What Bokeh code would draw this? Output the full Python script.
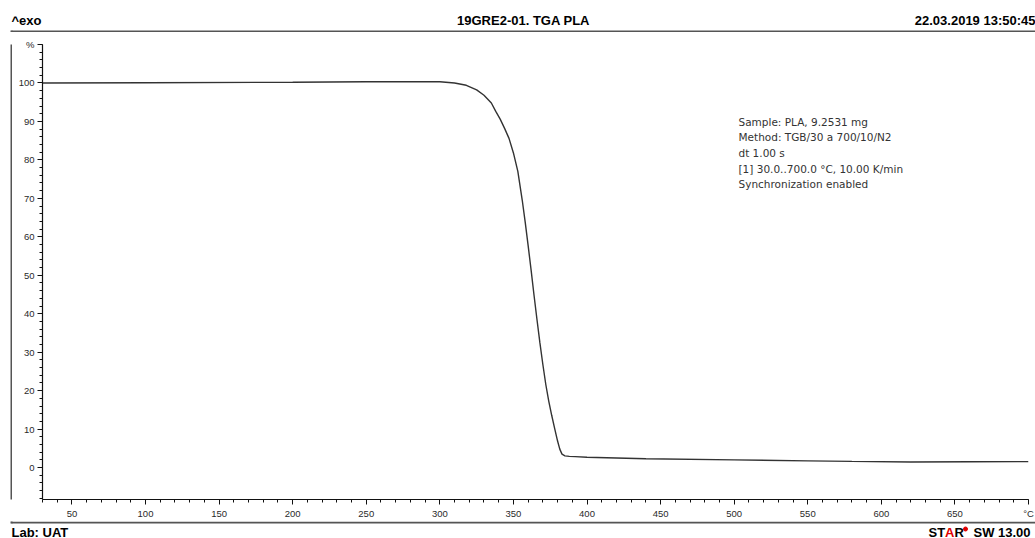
from bokeh.plotting import figure
from bokeh.models import FixedTicker, Range1d
from bokeh.layouts import column, row
from bokeh.core.properties import value
from bokeh.embed import file_html
from bokeh.resources import INLINE

# ---- data ----
temperature_c = [30, 100, 200, 250, 290, 300, 310, 318, 325, 330, 335, 338, 341, 344, 347,
                 350, 353, 356, 358, 360, 362, 364, 366, 368, 370, 372, 374, 376, 378, 380,
                 381.5, 383, 385, 388, 392, 400, 440, 500, 550, 580, 620, 660, 700]
mass_pct = [100.0, 100.05, 100.2, 100.3, 100.35, 100.3, 100.0, 99.4, 98.2, 96.8, 94.8, 92.6,
            90.6, 88.2, 85.6, 81.8, 77.0, 69.5, 63.8, 57.7, 51.4, 44.8, 38.5, 32.4, 26.8,
            21.6, 17.3, 13.6, 10.2, 6.9, 4.8, 3.5, 3.05, 2.92, 2.85, 2.7, 2.3, 2.0, 1.75,
            1.6, 1.45, 1.5, 1.55]

x_ticks = [50, 100, 150, 200, 250, 300, 350, 400, 450, 500, 550, 600, 650, 700]
x_minor_ticks = list(range(30, 701, 10))
x_tick_labels = {700: "°C"}
y_ticks = [0, 10, 20, 30, 40, 50, 60, 70, 80, 90, 100, 110]
y_minor_ticks = list(range(-8, 111, 2))
y_tick_labels = {110: "%"}

title = "19GRE2-01. TGA PLA"
header_left = "^exo"
header_right = "22.03.2019 13:50:45"
footer_left = "Lab: UAT"
info_lines = ["Sample: PLA, 9.2531 mg",
              "Method: TGB/30 a 700/10/N2",
              "dt 1.00 s",
              "[1] 30.0..700.0 °C, 10.00 K/min",
              "Synchronization enabled"]

# ---- page geometry ----
W, H = 1035, 538
HEAD_H = 32
FOOT_H = 17
MID_H = H - HEAD_H - FOOT_H
LEFT_W = 12
MAIN_W = W - LEFT_W
BOX_COLOR = "#555555"
HEAD_FONT = value("Liberation Sans")


def blank(width, height):
    f = figure(width=width, height=height, output_backend="svg", toolbar_location=None,
               x_range=Range1d(0, width), y_range=Range1d(height, 0),
               x_axis_location=None, y_axis_location=None,
               min_border=0, min_border_left=0, min_border_right=0,
               min_border_top=0, min_border_bottom=0)
    f.outline_line_color = None
    f.xgrid.visible = False
    f.ygrid.visible = False
    f.border_fill_color = "white"
    f.background_fill_color = "white"
    return f


# header
head = blank(W, HEAD_H)
head.line([11, W + 5], [31, 31], line_color=BOX_COLOR, line_width=2)
head.line([11, 11], [30, 33], line_color=BOX_COLOR, line_width=2)
for txt, x, align in ((header_left, 11, "left"), (title, 523, "center"),
                      (header_right, W, "right")):
    head.text(x=[x], y=[20], text=[txt], text_align=align, text_baseline="middle",
              text_font=HEAD_FONT, text_font_style="bold", text_font_size="13px",
              text_color="black")

# left strip of the box
left = blank(LEFT_W, MID_H)
left.line([11, 11], [-1, MID_H + 1], line_color=BOX_COLOR, line_width=2)

# main plot
FL, FR = 42 - LEFT_W, 1028 - LEFT_W
FT, FB = 44 - HEAD_H, 499 - HEAD_H
X0, X1 = 30, 700
Y0, Y1 = -8.3, 110

p = figure(width=MAIN_W, height=MID_H, output_backend="svg", toolbar_location=None,
           x_range=Range1d(X0, X1), y_range=Range1d(Y0, Y1),
           min_border_left=FL, min_border_right=MAIN_W - FR,
           min_border_top=FT, min_border_bottom=MID_H - FB)
p.outline_line_color = None
p.xgrid.visible = False
p.ygrid.visible = False
p.background_fill_color = "white"
p.border_fill_color = "white"

p.line(temperature_c, mass_pct, line_color="#333333", line_width=1.4)

for ax, ticks, minor, labels in ((p.xaxis[0], x_ticks, x_minor_ticks, x_tick_labels),
                                 (p.yaxis[0], y_ticks, y_minor_ticks, y_tick_labels)):
    ax.ticker = FixedTicker(ticks=ticks, minor_ticks=minor)
    ax.major_label_overrides = labels
    ax.axis_line_color = "#111111"
    ax.axis_line_width = 1.2
    ax.major_tick_line_color = "#111111"
    ax.minor_tick_line_color = "#111111"
    ax.major_tick_in = 0
    ax.major_tick_out = 5
    ax.minor_tick_in = 0
    ax.minor_tick_out = 3
    ax.major_label_text_font = "Liberation Sans"
    ax.major_label_text_font_size = "9.5px"
    ax.major_label_text_color = "#2a2a2a"
    ax.major_label_standoff = 3

# info block (data coordinates derived from pixel placement)
def px2x(px):
    return X0 + (px - LEFT_W - FL) * (X1 - X0) / (FR - FL)

def px2y(py):
    return Y0 + (FB - (py - HEAD_H)) * (Y1 - Y0) / (FB - FT)

p.text(x=[px2x(738)] * len(info_lines),
       y=[px2y(121 + i * 15.7) for i in range(len(info_lines))],
       text=info_lines, text_align="left", text_baseline="middle",
       text_font=value("DejaVu Sans"), text_font_size="10.5px", text_color="#333333")

# footer
foot = blank(W, FOOT_H)
foot.line([11, W + 5], [1, 1], line_color=BOX_COLOR, line_width=2)
foot.line([11, 11], [-2, 2], line_color=BOX_COLOR, line_width=2)
fy = 531.5 - (H - FOOT_H)
for txt, x, color in ((footer_left, 11, "black"), ("ST", 928, "black"),
                      ("A", 944.6, "#e00000"), ("R", 954, "black"),
                      ("SW 13.00", 973, "black")):
    foot.text(x=[x], y=[fy], text=[txt], text_align="left", text_baseline="middle",
              text_font=HEAD_FONT, text_font_style="bold", text_font_size="13px",
              text_color=color)
foot.scatter(x=[965], y=[fy - 3], size=4, color="#e00000", marker="circle")

layout = column(head, row(left, p, spacing=0), foot, spacing=0)
open("out.html", "w").write(file_html(layout, INLINE))
